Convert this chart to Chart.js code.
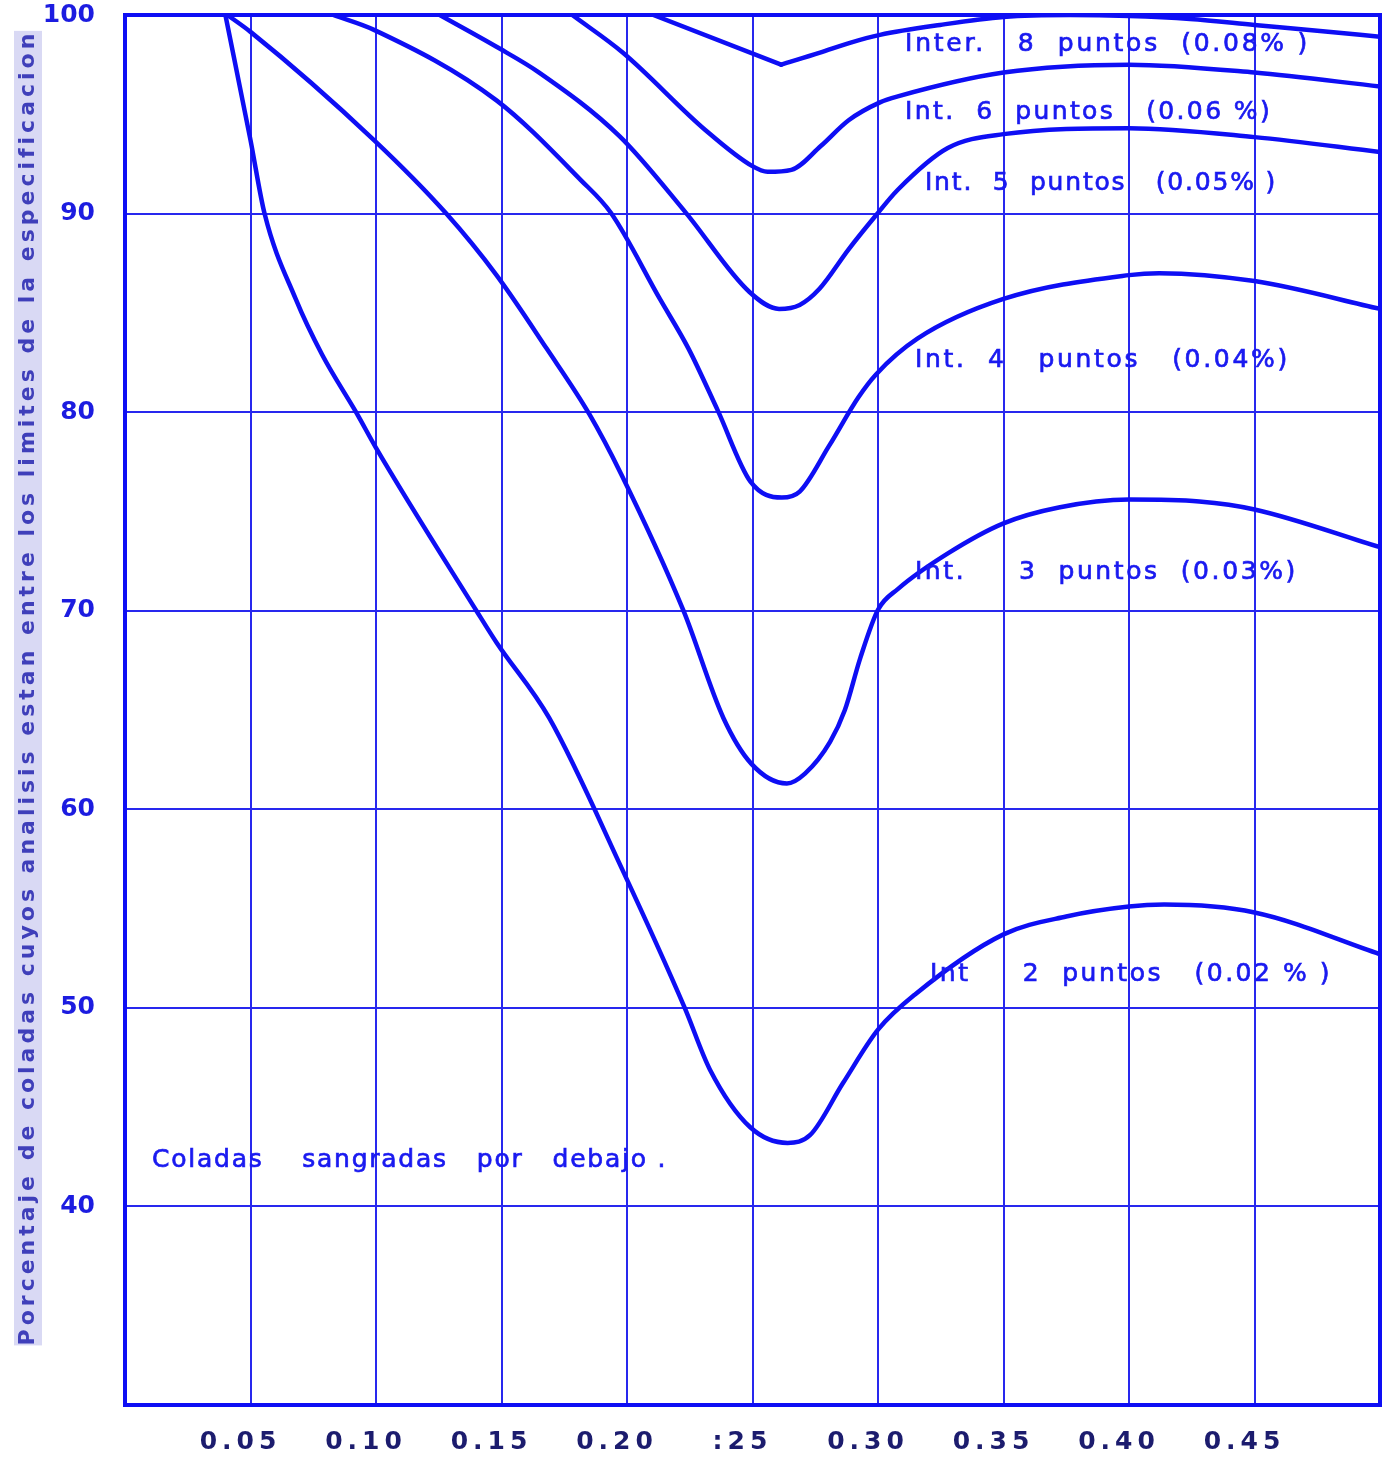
<!DOCTYPE html>
<html><head><meta charset="utf-8">
<script src="https://cdn.jsdelivr.net/npm/chart.js@4/dist/chart.umd.min.js"></script>
<style>html,body{margin:0;padding:0;background:#fff}#wrap{width:1386px;height:1459px;position:relative}</style>
</head><body><div id="wrap"><canvas id="c"></canvas></div>
<script>
// ---- tick labels ----
const xTickLabels = ['', '0.05', '0.10', '0.15', '0.20', ':25', '0.30', '0.35', '0.40', '0.45', ''];
const yTickValues = [30, 40, 50, 60, 70, 80, 90, 100];
const yTickLabels = ['', '40', '50', '60', '70', '80', '90', '100'];
const yTitle = 'Porcentaje de coladas cuyos analisis estan entre los limites de la especificacion';

// ---- series: [x = %, y = % of heats within specification] ----
const int2 = [[0.040,100],[0.050,93.7],[0.0556,90.0],[0.068,85.7],[0.0785,82.9],[0.0925,79.9],[0.100,78.2],[0.140,70.0],[0.148,68.4],[0.169,64.6],[0.198,57.0],[0.223,50.0],[0.233,46.9],[0.249,44.0],[0.264,43.2],[0.273,43.6],[0.286,46.2],[0.300,48.9],[0.315,50.7],[0.350,53.7],[0.375,54.6],[0.400,55.1],[0.414,55.2],[0.450,54.8],[0.500,52.7]];
const int3 = [[0.0408,100],[0.050,99.15],[0.0992,93.7],[0.128,90.0],[0.148,86.9],[0.168,83.2],[0.185,79.9],[0.1976,76.9],[0.2225,70.0],[0.2384,64.6],[0.2495,62.3],[0.2637,61.3],[0.2709,61.8],[0.2809,63.4],[0.2868,65.0],[0.2929,67.6],[0.300,70.05],[0.308,71.1],[0.328,72.9],[0.350,74.4],[0.372,75.2],[0.400,75.6],[0.428,75.5],[0.450,75.1],[0.500,73.2]];
const int4 = [[0.083,100],[0.0992,99.25],[0.148,95.7],[0.1815,91.7],[0.1935,90.05],[0.2131,85.7],[0.2245,83.2],[0.2361,80.1],[0.2492,76.5],[0.2617,75.7],[0.2688,76.0],[0.2805,78.3],[0.2922,80.75],[0.2992,81.9],[0.3157,83.7],[0.350,85.7],[0.400,86.9],[0.412,87.0],[0.450,86.6],[0.500,85.2]];
const int5 = [[0.1254,100],[0.148,98.4],[0.165,97.1],[0.197,93.9],[0.2234,90.05],[0.2488,86.05],[0.2606,85.2],[0.2688,85.4],[0.2766,86.2],[0.2883,88.2],[0.2988,89.85],[0.3079,91.2],[0.3278,93.3],[0.350,94.0],[0.400,94.3],[0.450,93.85],[0.500,93.1]];
const int6 = [[0.1782,100],[0.1984,98.1],[0.2313,94.2],[0.2498,92.4],[0.256,92.1],[0.2655,92.2],[0.2772,93.4],[0.2883,94.7],[0.3008,95.6],[0.3079,95.9],[0.350,97.1],[0.400,97.5],[0.450,97.1],[0.500,96.4]];
const int8Left = [[0.2105,100],[0.2614,97.5]];
const int8Right = [[0.2614,97.5],[0.2769,98.1],[0.2888,98.6],[0.3008,99.0],[0.3247,99.5],[0.350,99.9],[0.3765,100],[0.400,99.95],[0.4243,99.8],[0.450,99.5],[0.4761,99.2],[0.500,98.9]];

// ---- curve annotations (text, x start, x end, y) in data units ----
const noteTexts = ['Inter.   8  puntos  (0.08% )', 'Int.  6  puntos   (0.06 %)', 'Int.  5  puntos   (0.05% )', 'Int.  4   puntos   (0.04%)', 'Int.     3  puntos  (0.03%)', 'Int     2  puntos   (0.02 % )', 'Coladas    sangradas   por   debajo .'];
const noteXStart = [0.3108, 0.3108, 0.3187, 0.3147, 0.3147, 0.3207, 0.0108];
const noteXEnd   = [0.4721, 0.4570, 0.4590, 0.4641, 0.4673, 0.4809, 0.2159];
const noteY      = [98.5, 95.1, 91.5, 82.6, 71.9, 51.7, 42.3];

const BLUE = '#0e0ef4';
const GRID = '#2828ee';

function toXY(arr){ return arr.map(p => ({x:p[0], y:p[1]})); }
function ds(arr, mode){
  return { data: toXY(arr), showLine:true, borderColor:BLUE, borderWidth:4.5, pointRadius:0,
    fill:false, tension: mode==='straight'?0:0.4, cubicInterpolationMode: mode==='straight'?'default':'monotone',
    borderCapStyle:'round', borderJoinStyle:'round' };
}

function spacedText(ctx, text, x0, x1, y, stroke){
  ctx.letterSpacing = '0px';
  const w0 = ctx.measureText(text).width;
  const ls = Math.max(0, (x1 - x0 - w0) / text.length);
  ctx.letterSpacing = ls.toFixed(2) + 'px';
  ctx.fillText(text, x0, y);
  if (stroke) ctx.strokeText(text, x0, y);
  ctx.letterSpacing = '0px';
}

const framePlugin = {
  id:'frame',
  afterLayout(chart){
    const sx = chart.scales.x;
    if (!sx._wrapped){
      const orig = sx.drawLabels.bind(sx);
      sx.drawLabels = function(area){
        const c = this.ctx; c.save(); c.letterSpacing = '5px'; c.translate(-10, 0);
        orig(area); c.restore();
      };
      sx._wrapped = true;
    }
  },
  beforeDatasetsDraw(chart){
    const {ctx, scales} = chart;
    // vertical axis title
    const yTop = scales.y.getPixelForValue(99.2), yBot = scales.y.getPixelForValue(33.0);
    ctx.save();
    ctx.fillStyle = 'rgba(120,120,215,0.28)';
    ctx.fillRect(14, yTop, 28, yBot - yTop);
    ctx.translate(28, yBot);
    ctx.rotate(-Math.PI/2);
    ctx.fillStyle = 'rgba(35,35,175,0.85)';
    ctx.font = 'bold 22px "DejaVu Sans"';
    ctx.textBaseline = 'middle';
    spacedText(ctx, yTitle, 0, yBot - yTop, 0, false);
    ctx.restore();
  },
  afterDatasetsDraw(chart){
    const {ctx, chartArea:a, scales} = chart;
    ctx.save();
    ctx.strokeStyle = BLUE; ctx.lineWidth = 4;
    ctx.strokeRect(a.left, a.top, a.right-a.left, a.bottom-a.top);
    ctx.fillStyle = '#1a1af0';
    ctx.strokeStyle = '#1a1af0'; ctx.lineWidth = 0.7;
    ctx.font = '25px "DejaVu Sans"';
    ctx.textBaseline = 'middle';
    for (let i=0;i<noteTexts.length;i++){
      const x0 = scales.x.getPixelForValue(noteXStart[i]);
      const x1 = scales.x.getPixelForValue(noteXEnd[i]);
      const y = scales.y.getPixelForValue(noteY[i]);
      spacedText(ctx, noteTexts[i], x0, x1, y, true);
    }
    ctx.restore();
  }
};

new Chart(document.getElementById('c'), {
  type:'scatter',
  data:{ datasets:[ ds(int2), ds(int3), ds(int4), ds(int5), ds(int6), ds(int8Left,'straight'), ds(int8Right) ] },
  options:{
    responsive:true, maintainAspectRatio:false, animation:false,
    layout:{ padding:{ top:15, right:6, bottom:0, left:0 } },
    plugins:{ legend:{display:false}, tooltip:{enabled:false} },
    scales:{
      x:{ type:'linear', min:0, max:0.5,
        ticks:{ stepSize:0.05, autoSkip:false, maxRotation:0, padding:22, color:'#1c1c6e',
          font:{ family:'DejaVu Sans', size:25, weight:'bold' },
          callback:(v)=> xTickLabels[Math.round(v*20)] },
        grid:{ color:GRID, lineWidth:2, drawTicks:false },
        border:{ color:BLUE, width:4 },
        afterFit:(s)=>{ s.height = 54; s.paddingLeft = 0; s.paddingRight = 0; s.paddingTop = 0; s.paddingBottom = 0; } },
      y:{ type:'linear', min:30, max:100,
        ticks:{ stepSize:10, padding:30, color:'#1c1ce0',
          font:{ family:'DejaVu Sans', size:25, weight:'bold' },
          callback:(v)=> { const i = yTickValues.indexOf(Math.round(v)); return i>=0 ? yTickLabels[i] : ''; } },
        grid:{ color:GRID, lineWidth:2, drawTicks:false },
        border:{ color:BLUE, width:4 },
        title:{ display:false, text:yTitle },
        afterFit:(s)=>{ s.width = 125; s.paddingTop = 0; s.paddingBottom = 0; s.paddingLeft = 0; s.paddingRight = 0; } }
    }
  },
  plugins:[framePlugin]
});
</script></body></html>
